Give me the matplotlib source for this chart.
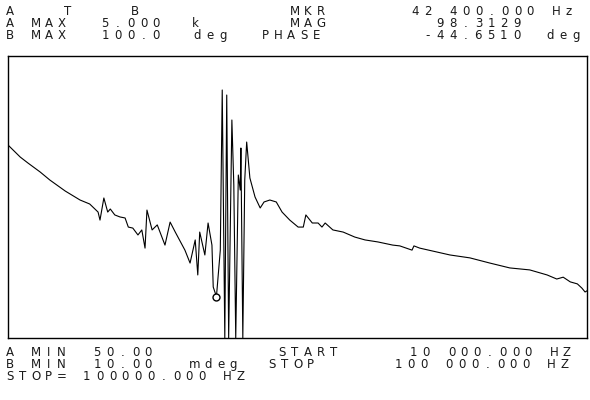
import matplotlib
matplotlib.use("Agg")
import matplotlib.pyplot as plt

# ---- data (frequency in Hz, magnitude) ----
freq_hz = [10000, 11900, 13100, 15000, 16500, 18900, 21200, 22700, 24000, 24300,
           24900, 25500, 25900, 26600, 27400, 28200, 28700, 29400, 30200, 30800,
           31300, 31600, 32400, 33200, 34400, 35200, 36000, 37500, 38300, 39100,
           39500, 39800, 40600, 41100, 41700, 41900, 42400, 43000, 43300, 43700,
           44000, 44300, 44800, 45100, 45400, 45800, 46100, 46200, 46500, 46800,
           47100, 47600, 48400, 49200, 49800, 50700, 51700, 52600, 53800, 55100,
           55900, 56300, 57300, 58200, 58800, 59300, 60500, 62100, 63900, 65500,
           67500, 69800, 70900, 72800, 73100, 74000, 78700, 81800, 84900, 88000,
           91100, 93800, 95300, 96300, 97400, 98500, 99200, 99700, 100000]
magnitude = [1169, 960, 871, 752, 660, 551, 476, 446, 391, 343,
             492, 391, 411, 373, 361, 355, 306, 301, 269, 292,
             217, 404, 292, 317, 228, 332, 282, 210, 170, 248,
             140, 282, 194, 327, 228, 115, 98.3, 210, 2870, 50,
             2644, 50, 1758, 608, 50, 716, 560, 1113, 50, 660,
             1227, 682, 500, 418, 461, 476, 461, 391, 343, 306,
             306, 373, 327, 327, 306, 327, 292, 282, 260, 248,
             240, 228, 225, 210, 225, 217, 194, 185, 170, 157,
             152, 140, 131, 135, 125, 121, 113, 106, 108]

marker_freq = 42400
marker_mag = 98.3129
marker_phase = -44.6510

start_hz = 10000
stop_hz = 100000
a_min, a_max = 50.0, 5000.0

header_rows = [
    [(5, "A"), (63, "T"), (130, "B"), (290, "MKR"), (410, "42 400.000 Hz")],
    [(5, "A MAX"), (100, "5.000"), (190, "k"), (290, "MAG"), (435, "98.3129")],
    [(5, "B MAX"), (100, "100.0"), (192, "deg"), (260, "PHASE"), (422, "-44.6510"), (545, "deg")],
]
footer_rows = [
    [(5, "A MIN"), (92, "50.00"), (277, "START"), (408, "10 000.000 HZ")],
    [(5, "B MIN"), (92, "10.00"), (190, "mdeg"), (267, "STOP"), (393, "100 000.000 HZ")],
    [(5, "STOP= 100000.000 HZ")],
]

W, H = 590, 400
fig = plt.figure(figsize=(W / 100, H / 100), dpi=100)
fig.patch.set_facecolor("white")

L, R, T, B = 8, 587, 56, 338
ax = fig.add_axes([L / W, 1 - B / H, (R - L) / W, (B - T) / H])
ax.set_yscale("log")
ax.set_xlim(start_hz, stop_hz)
ax.set_ylim(a_min, a_max)
ax.plot(freq_hz, magnitude, color="black", lw=0.8, clip_on=True)
ax.plot([marker_freq], [marker_mag], marker="o", ms=5, mfc="white", mec="black", mew=1.0)
ax.set_xticks([])
ax.set_yticks([])
ax.minorticks_off()
ax.tick_params(which="both", left=False, bottom=False, labelleft=False, labelbottom=False)
for s in ax.spines.values():
    s.set_color("black")
    s.set_linewidth(1.0)

font = dict(family="DejaVu Sans", fontsize=8.5, color="#1a1a1a", va="center", ha="center")
pitch = 12.8


def spaced(x, y, s):
    for i, ch in enumerate(s):
        if ch != " ":
            fig.text((x + i * pitch + pitch * 0.4) / W, 1 - y / H, ch, **font)


for y, row in zip([11.5, 23.5, 35.5], header_rows):
    for x, s in row:
        spaced(x, y, s)
for y, row in zip([352.5, 364.5, 376.5], footer_rows):
    for x, s in row:
        spaced(x, y, s)

fig.savefig("out.png", dpi=100, facecolor="white")
